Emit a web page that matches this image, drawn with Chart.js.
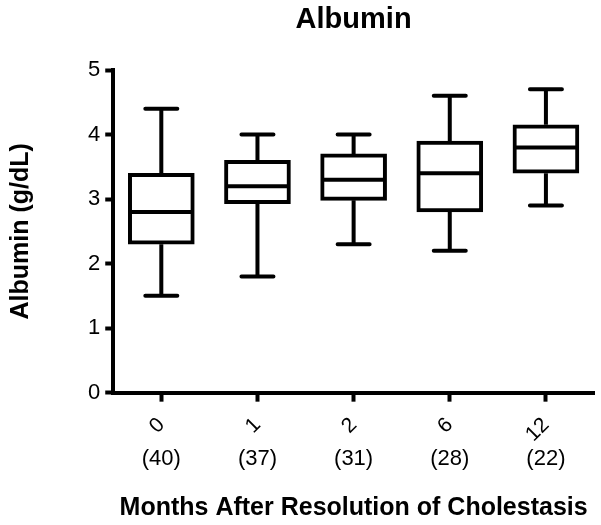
<!DOCTYPE html>
<html>
<head>
<meta charset="utf-8">
<title>Albumin</title>
<script src="https://cdn.jsdelivr.net/npm/chart.js@4.4.1/dist/chart.umd.min.js"></script>
<style>
    html, body { margin: 0; padding: 0; background: #fff; }
    #wrap { width: 601px; height: 525px; position: relative; }
</style>
</head>
<body>
<div id="wrap"><canvas id="albumin-chart"></canvas></div>
<script>
// Months after resolution, and number of patients per group
const months = ['0', '1', '2', '6', '12'];
const counts = ['(40)', '(37)', '(31)', '(28)', '(22)'];

// Box plot values (g/dL)
const whiskerLow = [1.5, 1.8, 2.3, 2.2, 2.9];
const q1 = [2.3, 2.93, 2.98, 2.8, 3.4];
const median = [2.8, 3.2, 3.3, 3.4, 3.8];
const q3 = [3.4, 3.6, 3.7, 3.9, 4.15];
const whiskerHigh = [4.4, 4.0, 4.0, 4.6, 4.7];

const yTicks = [0, 1, 2, 3, 4, 5];

const FONT = '"Liberation Sans", Arial, sans-serif';
Chart.defaults.font.family = FONT;
Chart.defaults.color = '#000';

// Whiskers, caps, medians, the (n) row under the axis and the centred title
const boxExtras = {
    id: 'boxExtras',
    afterDatasetsDraw(chart) {
        const ctx = chart.ctx;
        const x = chart.scales.x;
        const y = chart.scales.y;
        const capHalf = 16;
        ctx.save();
        ctx.strokeStyle = '#000';
        ctx.lineWidth = 4;
        months.forEach((m, i) => {
            const cx = x.getPixelForValue(i);
            const bar = chart.getDatasetMeta(0).data[i];
            const half = bar.width / 2;

            ctx.lineCap = 'butt';
            ctx.beginPath();
            ctx.moveTo(cx, y.getPixelForValue(q3[i]));
            ctx.lineTo(cx, y.getPixelForValue(whiskerHigh[i]));
            ctx.moveTo(cx, y.getPixelForValue(q1[i]));
            ctx.lineTo(cx, y.getPixelForValue(whiskerLow[i]));
            ctx.stroke();

            ctx.lineCap = 'round';
            ctx.beginPath();
            ctx.moveTo(cx - capHalf, y.getPixelForValue(whiskerHigh[i]));
            ctx.lineTo(cx + capHalf, y.getPixelForValue(whiskerHigh[i]));
            ctx.moveTo(cx - capHalf, y.getPixelForValue(whiskerLow[i]));
            ctx.lineTo(cx + capHalf, y.getPixelForValue(whiskerLow[i]));
            ctx.stroke();

            ctx.lineCap = 'butt';
            ctx.beginPath();
            ctx.moveTo(cx - half + 2, y.getPixelForValue(median[i]));
            ctx.lineTo(cx + half - 2, y.getPixelForValue(median[i]));
            ctx.stroke();
        });
        ctx.restore();
    },
    afterDraw(chart) {
        const ctx = chart.ctx;
        const x = chart.scales.x;
        const area = chart.chartArea;
        ctx.save();
        ctx.fillStyle = '#000';
        ctx.textAlign = 'center';

        ctx.font = '22px ' + FONT;
        ctx.textBaseline = 'middle';
        counts.forEach((c, i) => {
            ctx.fillText(c, x.getPixelForValue(i), 459);
        });

        // title sits over the plot area, not the whole canvas
        ctx.font = 'bold 29px ' + FONT;
        ctx.textBaseline = 'alphabetic';
        ctx.fillText('Albumin', (area.left + area.right) / 2, 28);
        ctx.restore();
    }
};

new Chart(document.getElementById('albumin-chart'), {
    type: 'bar',
    data: {
        labels: months,
        datasets: [{
            label: 'Albumin',
            data: q1.map((v, i) => [v, q3[i]]),
            backgroundColor: '#fff',
            borderColor: '#000',
            borderWidth: 4,
            borderSkipped: false,
            barThickness: 66
        }]
    },
    options: {
        responsive: true,
        maintainAspectRatio: false,
        animation: false,
        layout: {
            padding: { left: 0, right: 7, top: 70, bottom: 0 }
        },
        plugins: {
            legend: { display: false },
            tooltip: { enabled: false },
            title: { display: false }
        },
        scales: {
            x: {
                offset: true,
                grid: {
                    offset: false,
                    drawOnChartArea: false,
                    tickLength: 9,
                    tickWidth: 4,
                    tickColor: '#000'
                },
                border: { display: true, width: 4, color: '#000' },
                ticks: {
                    minRotation: 45,
                    maxRotation: 45,
                    font: { size: 21 },
                    color: '#000',
                    padding: 11
                },
                title: {
                    display: true,
                    text: 'Months After Resolution of Cholestasis',
                    font: { size: 25, weight: 'bold' },
                    color: '#000',
                    padding: { top: 35, bottom: 2 }
                }
            },
            y: {
                min: 0,
                max: 5,
                afterBuildTicks(scale) {
                    scale.ticks = yTicks.map(v => ({ value: v }));
                },
                grid: {
                    drawOnChartArea: false,
                    tickLength: 8,
                    tickWidth: 4,
                    tickColor: '#000'
                },
                border: { display: true, width: 4, color: '#000' },
                ticks: {
                    font: { size: 22 },
                    color: '#000',
                    padding: 5
                },
                title: {
                    display: true,
                    text: 'Albumin (g/dL)',
                    font: { size: 25, weight: 'bold' },
                    color: '#000',
                    padding: { top: 6, bottom: 47 }
                }
            }
        }
    },
    plugins: [boxExtras]
});
</script>
</body>
</html>
